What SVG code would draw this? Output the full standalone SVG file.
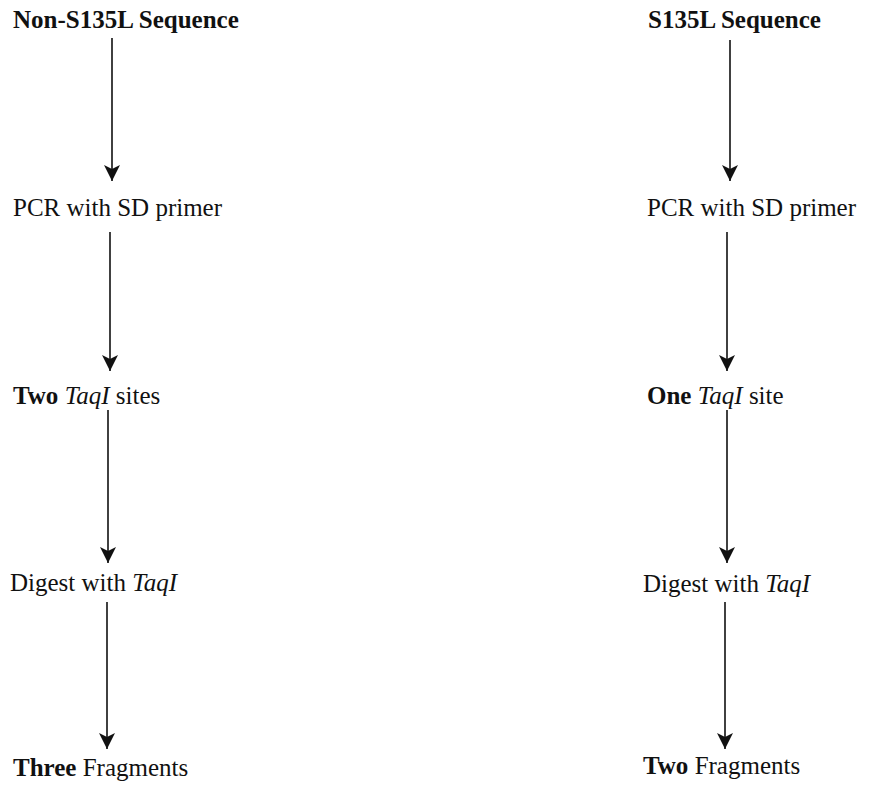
<svg xmlns="http://www.w3.org/2000/svg" width="870" height="788" viewBox="0 0 870 788">
<style>
text{font-family:"Liberation Serif","Times New Roman",serif;font-size:25px;fill:#111}
.b{font-weight:bold}
.i{font-style:italic}
.c{stroke:#111;stroke-width:1.6;fill:none}
</style>
<defs>
<marker id="ah" markerUnits="userSpaceOnUse" markerWidth="18" markerHeight="18" refX="17" refY="9" orient="auto" viewBox="0 0 18 18">
<polygon points="1,1 5,9 1,17 17,9" fill="#111"/>
</marker>
</defs>
<rect width="870" height="788" fill="#fff"/>
<g id="left-1"><text x="13" y="28" class="b">Non-S135L Sequence</text></g>
<g id="left-2"><text x="13" y="216">PCR with SD primer</text></g>
<g id="left-3"><text x="13" y="404"><tspan class="b">Two</tspan> <tspan class="i">TaqI</tspan> sites</text></g>
<g id="left-4"><text x="10" y="591">Digest with <tspan class="i">TaqI</tspan></text></g>
<g id="left-5"><text x="13" y="776"><tspan class="b">Three</tspan> Fragments</text></g>
<g id="right-1"><text x="648" y="28" class="b">S135L Sequence</text></g>
<g id="right-2"><text x="647" y="216">PCR with SD primer</text></g>
<g id="right-3"><text x="647" y="404"><tspan class="b">One</tspan> <tspan class="i">TaqI</tspan> site</text></g>
<g id="right-4"><text x="643" y="592">Digest with <tspan class="i">TaqI</tspan></text></g>
<g id="right-5"><text x="643" y="774"><tspan class="b">Two</tspan> Fragments</text></g>
<g id="connectors">
<line class="c" x1="112" y1="38" x2="112" y2="181" marker-end="url(#ah)"/>
<line class="c" x1="110" y1="232" x2="110" y2="371" marker-end="url(#ah)"/>
<line class="c" x1="108" y1="410" x2="108" y2="563" marker-end="url(#ah)"/>
<line class="c" x1="107" y1="602" x2="107" y2="749" marker-end="url(#ah)"/>
<line class="c" x1="730" y1="40" x2="730" y2="181" marker-end="url(#ah)"/>
<line class="c" x1="727" y1="232" x2="727" y2="371" marker-end="url(#ah)"/>
<line class="c" x1="727" y1="410" x2="727" y2="563" marker-end="url(#ah)"/>
<line class="c" x1="725" y1="602" x2="725" y2="749" marker-end="url(#ah)"/>
</g>
</svg>
